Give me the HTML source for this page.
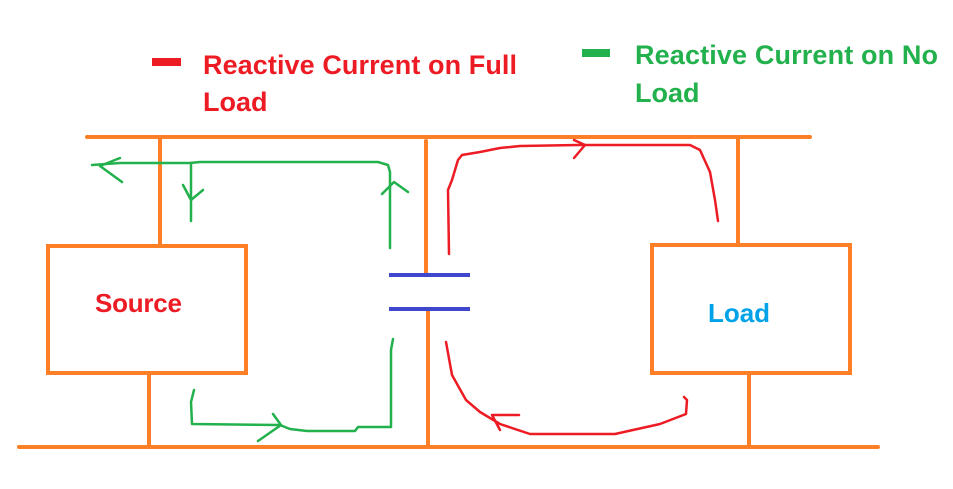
<!DOCTYPE html>
<html><head><style>
body{margin:0;background:#fff;width:953px;height:489px;overflow:hidden}
svg{display:block}
text{font-family:"Liberation Sans",sans-serif;font-weight:bold}
</style></head><body>
<svg width="953" height="489" viewBox="0 0 953 489" xmlns="http://www.w3.org/2000/svg">
<g stroke="#ff7f27" stroke-width="4" fill="none" stroke-linecap="round">
<line x1="87" y1="137" x2="810" y2="137"/>
<line x1="19" y1="447" x2="878" y2="447"/>
<line x1="160" y1="137" x2="160" y2="244"/>
<line x1="149" y1="373" x2="149" y2="447"/>
<rect x="48" y="246" width="198" height="127"/>
<rect x="652" y="245" width="198" height="128"/>
<line x1="738" y1="137" x2="738" y2="245"/>
<line x1="749" y1="373" x2="749" y2="447"/>
<line x1="426" y1="141" x2="426" y2="273"/>
<line x1="428" y1="310" x2="428" y2="447"/>
</g>
<g stroke="#3f48cc" stroke-width="4">
<line x1="389" y1="275" x2="470" y2="275"/>
<line x1="389" y1="309" x2="470" y2="309"/>
</g>
<g stroke="#ed1c24" stroke-width="2.5" fill="none" stroke-linecap="round" stroke-linejoin="round">
<path d="M449,254 L448,190 L452,180 L458,160 L462,155 L480,152 L500,148 L520,146 L578,145 L690,145 L700,150 L710,172 L715,200 L718,221"/>
<path d="M574,140 L585,145 L574,158"/>
<path d="M446,342 L452,375 L466,400 L480,412 L500,424 L530,434 L615,434 L660,424 L686,414 L687,400 L684,397"/>
<path d="M519,415 L492,415 L500,430"/>
<rect x="152" y="58" width="29" height="8" fill="#ed1c24" stroke="none"/>
</g>
<g stroke="#22b14c" stroke-width="2.5" fill="none" stroke-linecap="round" stroke-linejoin="round">
<path d="M92,165 L120,163 L190,163 L200,162 L378,162 L388,165 L390,172 L390,248"/>
<path d="M120,158 L100,166 L122,182"/>
<path d="M191,163 L191,221"/>
<path d="M183,185 L191,200 L203,190"/>
<path d="M382,194 L394,182 L408,192"/>
<path d="M393,339 L391,350 L391,427 L358,427 L355,431 L307,431 L290,429 L280,425 L192,424 L191,402 L194,390"/>
<path d="M273,414 L281,425 L258,441"/>
<rect x="582" y="49" width="28" height="8" fill="#22b14c" stroke="none"/>
</g>
<text x="203" y="74" font-size="27" fill="#ed1c24" textLength="314">Reactive Current on Full</text>
<text x="203" y="111" font-size="27" fill="#ed1c24">Load</text>
<text x="635" y="64" font-size="27" fill="#22b14c" textLength="303">Reactive Current on No</text>
<text x="635" y="102" font-size="27" fill="#22b14c">Load</text>
<text x="95" y="312" font-size="26" fill="#ed1c24" textLength="87">Source</text>
<text x="708" y="322" font-size="26" fill="#00a2e8" textLength="62">Load</text>
</svg>
</body></html>
